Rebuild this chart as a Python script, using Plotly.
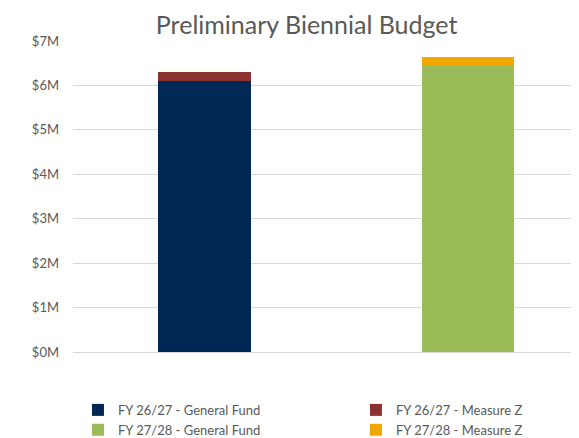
import plotly.graph_objects as go

# ---------------------------------------------------------------
# data (in $M)
# ---------------------------------------------------------------
categories = ['FY 26/27', 'FY 27/28']
general_fund_2627 = [6.09, None]
measure_z_2627 = [0.21, None]
general_fund_2728 = [None, 6.45]
measure_z_2728 = [None, 0.20]

series_names = ['FY 26/27 - General Fund', 'FY 26/27 - Measure Z',
                'FY 27/28 - General Fund', 'FY 27/28 - Measure Z']
series_values = [general_fund_2627, measure_z_2627, general_fund_2728, measure_z_2728]
series_colors = ['#002855', '#8b3230', '#9bbb59', '#f0a800']

tick_vals = [0, 1, 2, 3, 4, 5, 6, 7]
tick_text = ['$0M', '$1M', '$2M', '$3M', '$4M', '$5M', '$6M', '$7M']

FONT = 'Lato, Open Sans, sans-serif'
GREY = '#595959'

fig = go.Figure()

for name, vals, col in zip(series_names, series_values, series_colors):
    fig.add_trace(
        go.Bar(
            x=[0, 1],
            y=vals,
            name=name,
            marker=dict(color=col, line=dict(width=0)),
            width=0.352,
        )
    )

# page body has an 8px margin, so the figure is sized/shifted to compensate
fig.update_layout(
    barmode='stack',
    width=571,
    height=430,
    margin=dict(l=65, r=0, t=33, b=86, autoexpand=False),
    paper_bgcolor='white',
    plot_bgcolor='white',
    font=dict(family=FONT, color=GREY, size=13),
    title=dict(
        text='Preliminary Biennial Budget',
        x=0.523,
        xanchor='center',
        xref='container',
        y=0.961,
        yanchor='middle',
        yref='container',
        font=dict(size=25, color=GREY, family=FONT),
    ),
    showlegend=True,
    legend=dict(
        orientation='h',
        x=-0.0001,
        xanchor='left',
        y=-0.122,
        yanchor='top',
        entrywidth=233,
        entrywidthmode='pixels',
        traceorder='normal',
        itemwidth=30,
        borderwidth=5,
        bordercolor='rgba(0,0,0,0)',
        font=dict(size=13, color=GREY, family=FONT),
        tracegroupgap=0,
    ),
)

fig.update_xaxes(
    range=[-0.498, 1.421],
    showticklabels=False,
    showgrid=False,
    zeroline=False,
    showline=True,
    linecolor='#d9d9d9',
    linewidth=1,
    ticks='',
    fixedrange=True,
)

fig.update_yaxes(
    range=[0, 7],
    tickvals=tick_vals,
    ticktext=tick_text,
    showgrid=True,
    gridcolor='#d9d9d9',
    gridwidth=1,
    zeroline=False,
    showline=False,
    ticks='',
    ticklabelstandoff=13,
    tickfont=dict(size=13, color=GREY, family=FONT),
)

fig.write_html('out.html')
